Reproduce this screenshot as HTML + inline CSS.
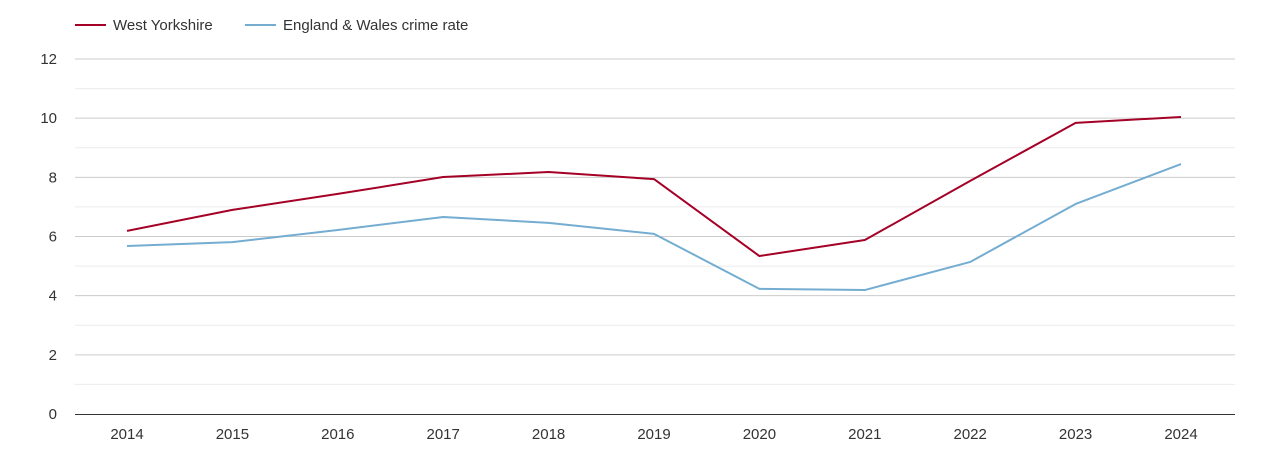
<!DOCTYPE html>
<html><head><meta charset="utf-8"><style>
body{margin:0;background:#fff;font-family:"Liberation Sans",sans-serif;}
svg{display:block}
text{font-family:"Liberation Sans",sans-serif;fill:#333;font-size:15px}
</style></head><body>
<svg id="chart" width="1270" height="450">
<g>
 <g>
  <line x1="75" y1="25" x2="106" y2="25" stroke="#a50026" stroke-width="2"/>
  <text x="113" y="30">West Yorkshire</text>
 </g>
 <g>
  <line x1="245" y1="25" x2="276" y2="25" stroke="#74add1" stroke-width="2"/>
  <text x="283" y="30">England &amp; Wales crime rate</text>
 </g>
</g>
<g id="grid"></g>
<g id="yticks"></g>
<g id="xticks"></g>
<g id="series"></g>
</svg>
<script>
const years = ["2014","2015","2016","2017","2018","2019","2020","2021","2022","2023","2024"];
const westYorkshire = [6.19,6.9,7.44,8.01,8.18,7.94,5.34,5.88,7.88,9.84,10.04];
const englandWales = [5.68,5.81,6.22,6.66,6.46,6.09,4.23,4.19,5.14,7.1,8.45];
const yTicks = [0,2,4,6,8,10,12];
const NS="http://www.w3.org/2000/svg";
const x0=75,x1=1235,yBase=414,yTop=59,yMax=12;
const xs=i=>127+i*(1181-127)/(years.length-1);
const ys=v=>yBase-v*(yBase-yTop)/yMax;
function mk(t,a,p){const e=document.createElementNS(NS,t);for(const k in a)e.setAttribute(k,a[k]);p.appendChild(e);return e;}
const grid=document.getElementById('grid');
for(let v=1;v<=yMax;v++){
 const l=mk('line',{x1:x0,x2:x1,y1:ys(v),y2:ys(v),stroke:v%2?'#ececec':'#cccccc','stroke-width':1},grid);
 
 
}
const axis=mk('line',{x1:x0,x2:x1,y1:yBase+0.5,y2:yBase+0.5,stroke:'#333','stroke-width':1},grid);


const yt=document.getElementById('yticks');
yTicks.forEach(v=>{const t=mk('text',{x:57,y:ys(v)+5,'text-anchor':'end'},yt);t.textContent=v;
 
 });
const xt=document.getElementById('xticks');
years.forEach((y,i)=>{const t=mk('text',{x:xs(i),y:439,'text-anchor':'middle'},xt);t.textContent=y;
 
 });
const sg=document.getElementById('series');
function line(data,color,name){
 const p=mk('polyline',{points:data.map((v,i)=>xs(i)+','+ys(v)).join(' '),fill:'none',stroke:color,'stroke-width':2,'stroke-linejoin':'round'},sg);
 
 
}
line(englandWales,'#74add1','england-wales-line');
line(westYorkshire,'#a50026','west-yorkshire-line');
</script>
</body></html>
